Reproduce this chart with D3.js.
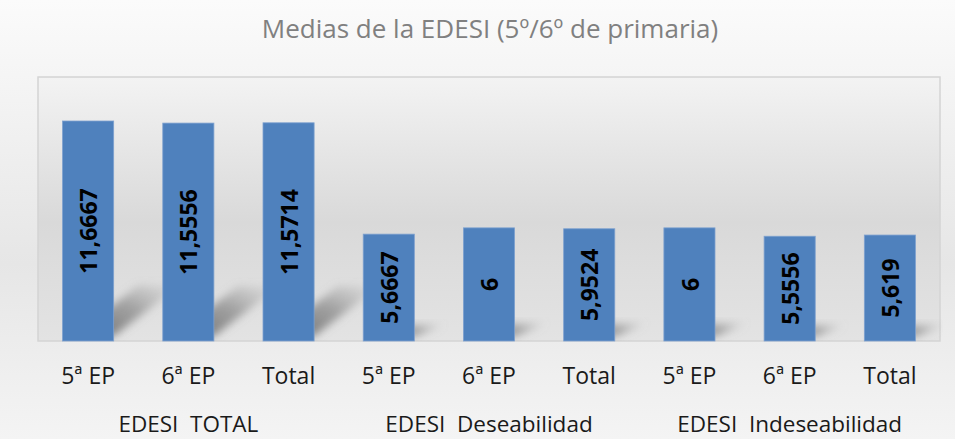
<!DOCTYPE html>
<html>
<head>
<meta charset="utf-8">
<script src="https://cdn.jsdelivr.net/npm/d3@7"></script>
<style>
  html, body { margin: 0; padding: 0; background: #fff; }
  svg { display: block; }
</style>
</head>
<body>
<svg width="955" height="439"></svg>
<script>
// categories and values
const groups = ["EDESI  TOTAL", "EDESI  Deseabilidad", "EDESI  Indeseabilidad"];
const levels = ["5ª EP", "6ª EP", "Total"];
const values = [11.6667, 11.5556, 11.5714, 5.6667, 6, 5.9524, 6, 5.5556, 5.619];
const valueLabels = ["11,6667", "11,5556", "11,5714", "5,6667", "6", "5,9524", "6", "5,5556", "5,619"];

const rows = values.map((v, i) => ({
    id: i,
    group: groups[Math.floor(i / 3)],
    level: levels[i % 3],
    value: v,
    label: valueLabels[i]
}));

const W = 955, H = 439;
const plot = {left: 38, right: 940, top: 77, bottom: 341};
const font = "'Open Sans', sans-serif";

const svg = d3.select("svg");
const defs = svg.append("defs");

// outer background gradient
const og = defs.append("linearGradient").attr("id", "outerBg")
    .attr("x1", 0).attr("y1", 0).attr("x2", 0).attr("y2", 1);
og.append("stop").attr("offset", "0%").attr("stop-color", "#fbfbfb");
og.append("stop").attr("offset", "60%").attr("stop-color", "#e6e6e6");
og.append("stop").attr("offset", "100%").attr("stop-color", "#f4f4f4");

// plot area gradient
const pg = defs.append("linearGradient").attr("id", "plotBg")
    .attr("x1", 0).attr("y1", 0).attr("x2", 0).attr("y2", 1);
pg.append("stop").attr("offset", "0%").attr("stop-color", "#f3f3f3");
pg.append("stop").attr("offset", "55%").attr("stop-color", "#d9d9d9");
pg.append("stop").attr("offset", "100%").attr("stop-color", "#e3e3e3");

// shadow fade + blur
const sg = defs.append("linearGradient").attr("id", "shadowFade")
    .attr("x1", 0).attr("y1", 1).attr("x2", 1).attr("y2", 0);
sg.append("stop").attr("offset", "0%").attr("stop-color", "#6a6a6a").attr("stop-opacity", 1);
sg.append("stop").attr("offset", "55%").attr("stop-color", "#808080").attr("stop-opacity", 0.65);
sg.append("stop").attr("offset", "100%").attr("stop-color", "#999").attr("stop-opacity", 0);
defs.append("filter").attr("id", "blur")
    .attr("x", "-40%").attr("y", "-40%").attr("width", "180%").attr("height", "180%")
  .append("feGaussianBlur").attr("stdDeviation", 4);
defs.append("clipPath").attr("id", "plotClip")
  .append("rect").attr("x", plot.left).attr("y", plot.top)
    .attr("width", plot.right - plot.left + 3).attr("height", plot.bottom - plot.top);

svg.append("rect").attr("width", W).attr("height", H).attr("fill", "url(#outerBg)");

// title
svg.append("text")
    .attr("x", 490).attr("y", 38)
    .attr("text-anchor", "middle")
    .attr("font-family", font)
    .attr("font-size", 26)
    .attr("fill", "#808080")
    .text("Medias de la EDESI (5º/6º de primaria)");

// scales
const x = d3.scaleBand()
    .domain(rows.map(d => d.id))
    .range([plot.left, plot.right])
    .paddingInner(0.49)
    .paddingOuter(0.245);

const y = d3.scaleLinear()
    .domain([0, 14])
    .range([plot.bottom, plot.top]);

// plot area
svg.append("rect")
    .attr("x", plot.left).attr("y", plot.top)
    .attr("width", plot.right - plot.left).attr("height", plot.bottom - plot.top)
    .attr("fill", "url(#plotBg)")
    .attr("stroke", "#d4d4d4").attr("stroke-width", 1.5);

// perspective shadows
svg.append("g").attr("clip-path", "url(#plotClip)")
  .selectAll("path")
  .data(rows)
  .join("path")
    .attr("d", d => {
        const x0 = x(d.id), x1 = x(d.id) + x.bandwidth();
        const h = y(0) - y(d.value);
        const dx = h * 0.3, dy = h * h * 0.00105;
        const b = y(0) - 5;
        return `M${x0 + 10},${b} L${x1},${b} L${x1 + dx},${b - dy} L${x0 + 10 + dx},${b - dy} Z`;
    })
    .attr("fill", "url(#shadowFade)")
    .attr("filter", "url(#blur)");

// bars
svg.append("g")
  .selectAll("rect")
  .data(rows)
  .join("rect")
    .attr("x", d => x(d.id))
    .attr("y", d => y(d.value))
    .attr("width", x.bandwidth())
    .attr("height", d => y(0) - y(d.value))
    .attr("fill", "#4f81bd")
    .attr("stroke", "#7ea1cf")
    .attr("stroke-width", 0.8);

// value labels (rotated, centred in bar)
svg.append("g")
  .selectAll("text")
  .data(rows)
  .join("text")
    .attr("transform", d => `translate(${x(d.id) + x.bandwidth() / 2 + 1},${(y(d.value) + y(0)) / 2}) rotate(-90)`)
    .attr("text-anchor", "middle")
    .attr("dy", "0.35em")
    .attr("font-family", font)
    .attr("font-weight", "bold")
    .attr("font-size", 23)
    .attr("fill", "#000")
    .text(d => d.label);

// category axis labels
const xAxis = svg.append("g")
    .attr("transform", `translate(0,${plot.bottom})`)
    .call(d3.axisBottom(x).tickSize(0).tickPadding(27).tickFormat(i => rows[i].level));
xAxis.select(".domain").remove();
xAxis.selectAll("text")
    .attr("font-family", font)
    .attr("font-size", 23)
    .attr("fill", "#1a1a1a");

// group labels
const groupScale = d3.scaleBand().domain(groups).range([plot.left, plot.right]);
svg.append("g")
  .selectAll("text")
  .data(groups)
  .join("text")
    .attr("x", g => groupScale(g) + groupScale.bandwidth() / 2)
    .attr("y", 432)
    .attr("text-anchor", "middle")
    .attr("font-family", font)
    .attr("font-size", 22.5)
    .attr("fill", "#1a1a1a")
    .attr("xml:space", "preserve")
    .style("white-space", "pre")
    .text(g => g);
</script>
</body>
</html>
